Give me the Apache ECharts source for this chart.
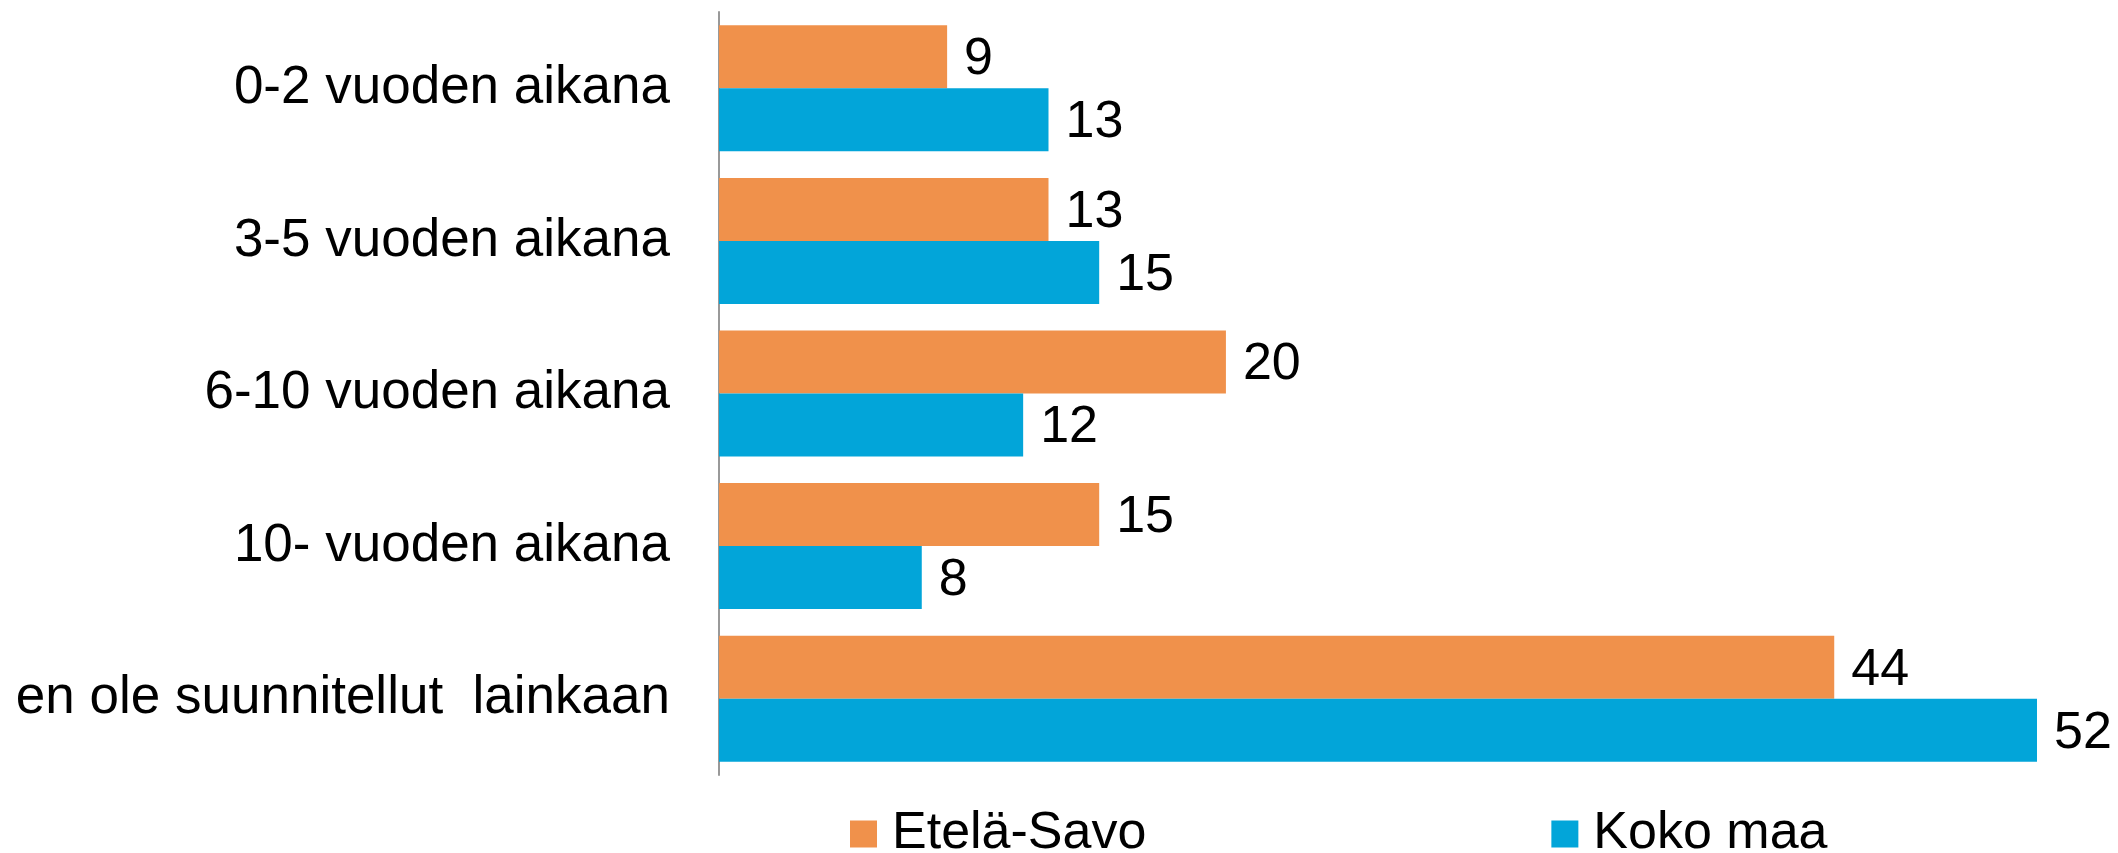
<!DOCTYPE html>
<html>
<head>
<meta charset="utf-8">
<script src="https://cdn.jsdelivr.net/npm/echarts@6/dist/echarts.min.js"></script>
<style>
html,body{margin:0;padding:0;background:#fff;}
#chart{width:2118px;height:853px;}
</style>
</head>
<body>
<div id="chart"></div>
<script>
const categories = ["0-2 vuoden aikana", "3-5 vuoden aikana", "6-10 vuoden aikana", "10- vuoden aikana", "en ole suunnitellut  lainkaan"];
const seriesNames = ["Etelä-Savo", "Koko maa"];
const etelaSavo = [9, 13, 20, 15, 44];
const kokoMaa = [13, 15, 12, 8, 52];
const colors = ["#F0914B", "#02A5D9"];

const font = "'Liberation Sans', Arial, sans-serif";
const chart = echarts.init(document.getElementById('chart'));
const labelStyle = {
  show: true, position: 'right', distance: 17, offset: [0, 3],
  fontSize: 52, fontFamily: font, color: '#000'
};
chart.setOption({
  animation: false,
  backgroundColor: '#fff',
  grid: { left: 719, right: 81, top: 12, bottom: 78 },
  legend: {
    left: 845, top: 803,
    itemWidth: 27, itemHeight: 27, itemGap: 405,
    icon: 'rect',
    textStyle: { fontSize: 52, fontFamily: font, color: '#000', padding: [0, 0, 0, 10] },
    data: seriesNames
  },
  xAxis: {
    type: 'value', min: 0, max: 52,
    show: false
  },
  yAxis: {
    type: 'category', inverse: true, data: categories,
    axisLine: { show: true, lineStyle: { color: '#999', width: 2 } },
    axisTick: { show: false },
    axisLabel: { fontSize: 53, fontFamily: font, color: '#000', margin: 49 }
  },
  series: [
    { name: seriesNames[0], type: 'bar', data: etelaSavo, barWidth: 63, barGap: '0%',
      itemStyle: { color: colors[0] }, label: labelStyle },
    { name: seriesNames[1], type: 'bar', data: kokoMaa, barWidth: 63, barGap: '0%',
      itemStyle: { color: colors[1] }, label: labelStyle }
  ]
});
</script>
</body>
</html>
